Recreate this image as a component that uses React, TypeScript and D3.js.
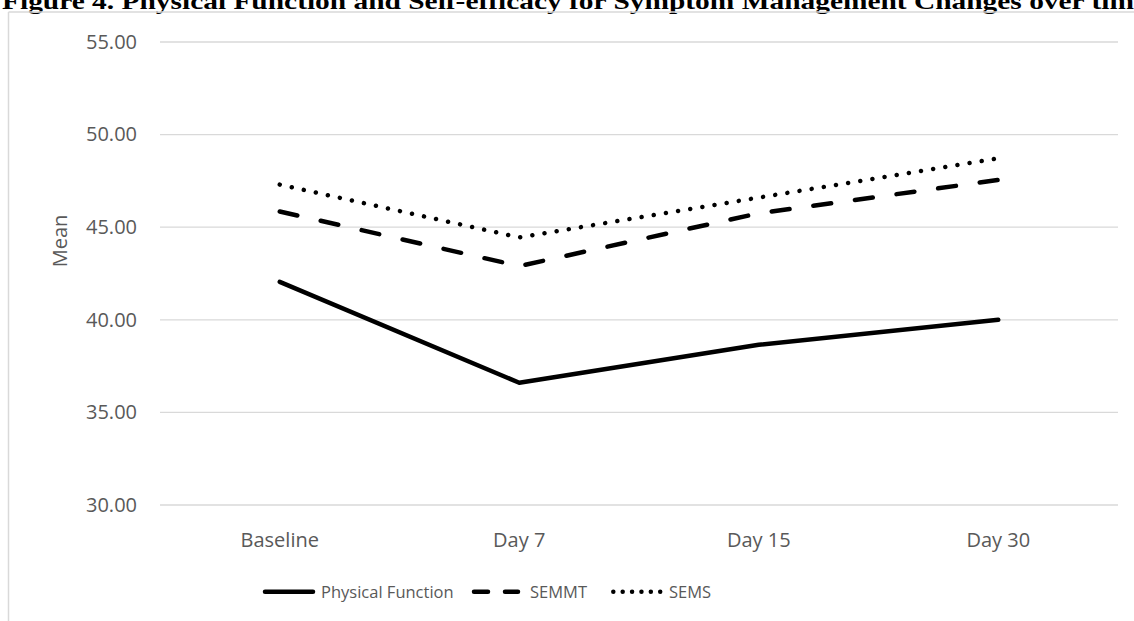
import React from "react";
import * as d3 from "d3";

const categories = ["Baseline", "Day 7", "Day 15", "Day 30"];
const physicalFunction = [42.05, 36.6, 38.65, 40.0];
const semmt = [45.85, 42.9, 45.75, 47.55];
const sems = [47.3, 44.45, 46.6, 48.72];
const yTicks = [30, 35, 40, 45, 50, 55];
const seriesNames = ["Physical Function", "SEMMT", "SEMS"];
const title = "Figure 4. Physical Function and Self-efficacy for Symptom Management Changes over time";

const W = 1134;
const H = 621;
const plotLeft = 160;
const plotRight = 1118;
const plotTop = 42;
const plotBottom = 505;
const FONT = "'Open Sans', sans-serif";
const GREY = "#595959";
const GRID = "#d9d9d9";

export default function App() {
  const x = d3.scaleBand<string>().domain(categories).range([plotLeft, plotRight]);
  const y = d3.scaleLinear().domain([30, 55]).range([plotBottom, plotTop]);
  const line = d3
    .line<number>()
    .x((_, i) => (x(categories[i]) as number) + x.bandwidth() / 2)
    .y((d) => y(d));

  const series = [
    { name: seriesNames[0], values: physicalFunction, dash: undefined as string | undefined },
    { name: seriesNames[1], values: semmt, dash: "18,24" },
    { name: seriesNames[2], values: sems, dash: "0.01,12.3" },
  ];

  const legendItems = [
    { name: seriesNames[0], x1: 265, x2: 313, tx: 321, dash: undefined as string | undefined },
    { name: seriesNames[1], x1: 474, x2: 518, tx: 530, dash: "14,17" },
    { name: seriesNames[2], x1: 613.3, x2: 660.2, tx: 669, dash: "0.01,9.37" },
  ];

  return (
    <svg
      width={W}
      height={H}
      style={{ position: "absolute", left: 0, top: 0, background: "#fff" }}
    >
      <rect x={0} y={0} width={W} height={H} fill="#fff" />
      <text
        x={2}
        y={8.5}
        fontFamily="'Liberation Serif', 'Times New Roman', serif"
        fontWeight="bold"
        fontSize={24}
        fill="#000"
        textLength={1145}
        lengthAdjust="spacingAndGlyphs"
      >
        {title}
      </text>
      {/* chart area border */}
      <line x1={8.5} y1={12} x2={8.5} y2={H} stroke={GRID} strokeWidth={1.5} />
      <line x1={8.5} y1={12} x2={W} y2={12} stroke={GRID} strokeWidth={1.5} />

      {/* gridlines */}
      {yTicks.map((t) => (
        <g key={t}>
          <line x1={plotLeft} x2={plotRight} y1={y(t)} y2={y(t)} stroke={GRID} strokeWidth={1.3} />
          <text
            x={137}
            y={y(t) + 6.8}
            textAnchor="end"
            fontFamily={FONT}
            fontSize={20}
            fill={GREY}
          >
            {t.toFixed(2)}
          </text>
        </g>
      ))}

      {/* category labels */}
      {categories.map((c) => (
        <text
          key={c}
          x={(x(c) as number) + x.bandwidth() / 2}
          y={547}
          textAnchor="middle"
          fontFamily={FONT}
          fontSize={20}
          fill={GREY}
        >
          {c}
        </text>
      ))}

      {/* y axis title */}
      <text
        transform={`translate(67,241) rotate(-90)`}
        textAnchor="middle"
        fontFamily={FONT}
        fontSize={20}
        fill={GREY}
      >
        Mean
      </text>

      {/* series */}
      {series.map((s) => (
        <path
          key={s.name}
          d={line(s.values) as string}
          fill="none"
          stroke="#000"
          strokeWidth={4.5}
          strokeLinecap="round"
          strokeLinejoin="round"
          strokeDasharray={s.dash}
        />
      ))}

      {/* legend */}
      {legendItems.map((l) => (
        <g key={l.name}>
          <line
            x1={l.x1}
            x2={l.x2}
            y1={591.7}
            y2={591.7}
            stroke="#000"
            strokeWidth={4.5}
            strokeLinecap="round"
            strokeDasharray={l.dash}
          />
          <text x={l.tx} y={598} fontFamily={FONT} fontSize={16.5} fill={GREY}>
            {l.name}
          </text>
        </g>
      ))}
    </svg>
  );
}
